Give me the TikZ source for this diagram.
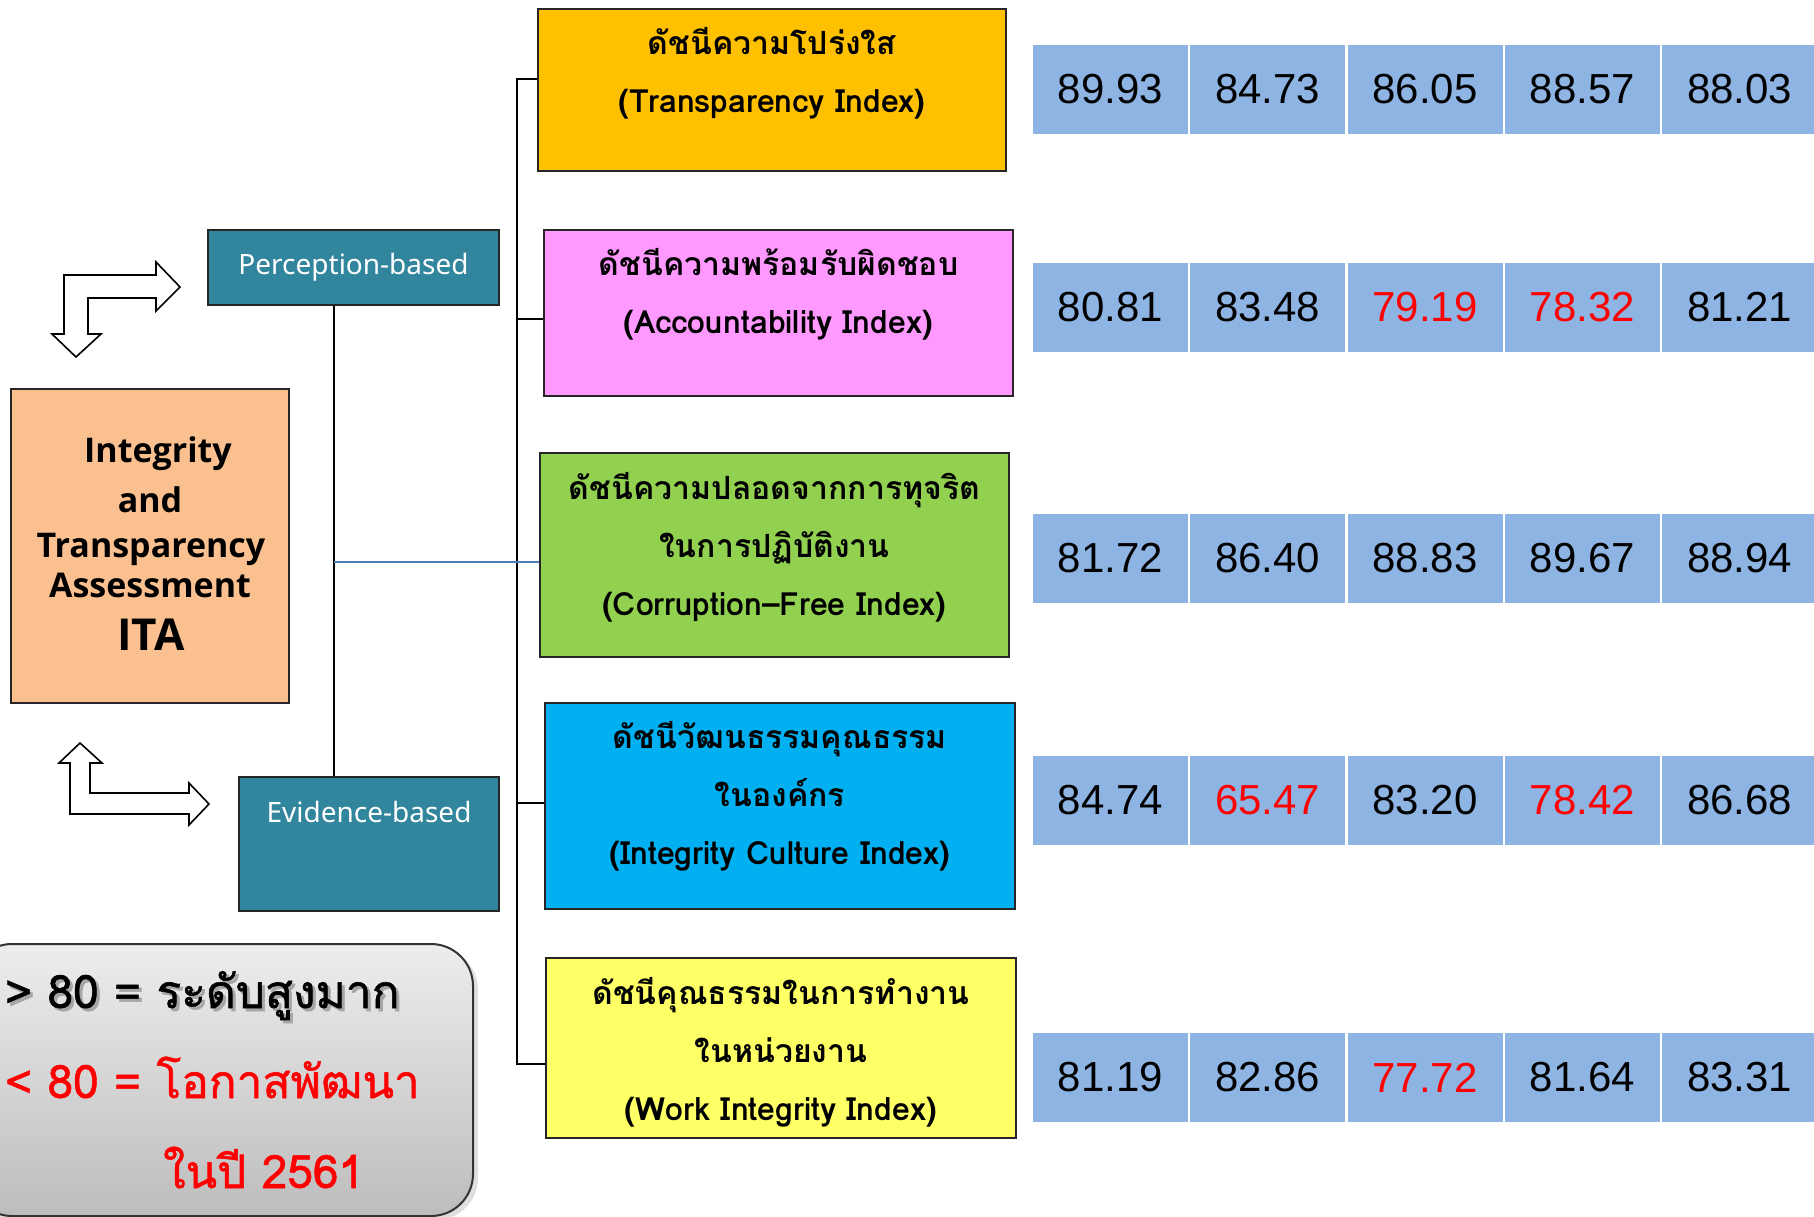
\documentclass[tikz,border=0pt]{standalone}
\usepackage{fontspec}
\setmainfont{Liberation Sans}
\newfontfamily\thai[Script=Thai]{Loma}
\newfontfamily\thaileg[Script=Thai,FakeBold=1.2]{Loma}
\newfontfamily\noto{Noto Sans}
\newfontfamily\opens{Open Sans}
\newfontfamily\numf{Liberation Sans}
\usetikzlibrary{shadows}
\definecolor{orangeb}{HTML}{FFC000}
\definecolor{pinkb}{HTML}{FF99FF}
\definecolor{greenb}{HTML}{92D050}
\definecolor{blueb}{HTML}{00B0F0}
\definecolor{yellowb}{HTML}{FFFF66}
\definecolor{tealb}{HTML}{31859C}
\definecolor{peach}{HTML}{FAC090}
\definecolor{cellb}{HTML}{8EB4E3}
\definecolor{linkblue}{HTML}{4A7EBB}
\definecolor{redt}{HTML}{FF0000}
\tikzset{
  ibox/.style={draw=black!85, line width=2pt, rectangle, inner sep=0pt},
  itext/.style={align=center, inner sep=0pt, font=\thai\bfseries\fontsize{32}{58}\selectfont},
  tbox/.style={draw=black!85, line width=2pt, fill=tealb, rectangle, inner sep=0pt},
  ttext/.style={text=white, inner sep=0pt, font=\noto\fontsize{28}{34}\selectfont},
  cell/.style={fill=cellb, rectangle, minimum width=155, minimum height=89, inner sep=0pt, font=\numf\fontsize{42}{50}\selectfont},
  itaf/.style={inner sep=0pt, anchor=base, font=\opens\bfseries\fontsize{34}{40}\selectfont},
  bent/.style={draw=black, line width=1.6pt, fill=white, line join=miter},
  conn/.style={draw=black, line width=1.6pt},
  legt/.style={inner sep=0pt, anchor=base west, font=\thaileg\fontsize{46}{50}\selectfont},
}
\begin{document}
\begin{tikzpicture}[x=1pt,y=-1pt]
\useasboundingbox (0,0) rectangle (1814,1217);
\clip (0,0) rectangle (1814,1217);
\fill[white] (0,0) rectangle (1814,1217);

% ITA box
\node[draw=black!85, line width=2pt, fill=peach, rectangle, minimum width=278, minimum height=314, inner sep=0pt] (ita) at (150,546) {};
\node[itaf] (ita1) at (158,462) {Integrity};
\node[itaf] (ita2) at (150,512) {and};
\node[itaf] (ita3) at (151,557) {Transparency};
\node[itaf] (ita4) at (150,597) {Assessment};
\node[itaf, font=\opens\bfseries\fontsize{44}{50}\selectfont] (ita5) at (151,650) {ITA};

% Perception / Evidence
\node[tbox, minimum width=291, minimum height=75] (perc) at (353.5,267) {};
\node[ttext] (perct) at (353.5,267) {Perception-based};
\node[tbox, minimum width=260, minimum height=134] (evid) at (369,844) {};
\node[ttext] (evidt) at (369,812) {Evidence-based};

% bent arrows
\draw[bent] (64,275) -- (156,275) -- (156,262) -- (180,287) -- (156,311) -- (156,298)
  -- (88,298) -- (88,334) -- (101,334) -- (76,357) -- (52,334) -- (64,334) -- cycle;
\draw[bent] (70,814) -- (70,763) -- (59,763) -- (80,743) -- (102,763) -- (90,763)
  -- (90,793) -- (189,793) -- (189,783) -- (209,804) -- (189,825) -- (189,814) -- cycle;

% index boxes
\node[ibox, fill=orangeb, minimum width=468, minimum height=162] (b1) at (772,90) {};
\node[ibox, fill=pinkb, minimum width=469, minimum height=166] (b2) at (778.5,313) {};
\node[ibox, fill=greenb, minimum width=469, minimum height=204] (b3) at (774.5,555) {};
\node[ibox, fill=blueb, minimum width=470, minimum height=206] (b4) at (780,806) {};
\node[ibox, fill=yellowb, minimum width=470, minimum height=180] (b5) at (781,1048) {};

\node[itext] (t1) at (772,73.5) {ดัชนีความโปร่งใส\\(Transparency Index)};
\node[itext] (t2) at (778.5,294.5) {ดัชนีความพร้อมรับผิดชอบ\\(Accountability Index)};
\node[itext] (t3) at (774.5,547) {ดัชนีความปลอดจากการทุจริต\\ในการปฏิบัติงาน\\(Corruption–Free Index)};
\node[itext] (t4) at (780,796) {ดัชนีวัฒนธรรมคุณธรรม\\ในองค์กร\\(Integrity Culture Index)};
\node[itext] (t5) at (781,1052) {ดัชนีคุณธรรมในการทำงาน\\ในหน่วยงาน\\(Work Integrity Index)};

% connectors
\coordinate (sp) at (334,562);
\coordinate (k1) at (517,79);
\coordinate (k2) at (517,319);
\coordinate (k4) at (517,803);
\coordinate (k5) at (517,1064);
\draw[conn] (sp |- perc.south) -- (sp |- evid.north);
\draw[conn] (k1 -| b1.west) -- (k1) -- (k5) -- (k5 -| b5.west);
\draw[conn] (k2) -- (k2 -| b2.west);
\draw[conn] (k4) -- (k4 -| b4.west);
\draw[draw=linkblue, line width=1.6pt] (sp) -- (sp -| b3.west);

% number cells
\foreach \v/\cl [count=\i from 0] in {89.93/black,84.73/black,86.05/black,88.57/black,88.03/black}
  \node[cell, text=\cl] (ca\i) at (1110.5+157.3*\i,89.5) {\v};
\foreach \v/\cl [count=\i from 0] in {80.81/black,83.48/black,79.19/redt,78.32/redt,81.21/black}
  \node[cell, text=\cl] (cb\i) at (1110.5+157.3*\i,307) {\v};
\foreach \v/\cl [count=\i from 0] in {81.72/black,86.40/black,88.83/black,89.67/black,88.94/black}
  \node[cell, text=\cl] (cc\i) at (1110.5+157.3*\i,558.5) {\v};
\foreach \v/\cl [count=\i from 0] in {84.74/black,65.47/redt,83.20/black,78.42/redt,86.68/black}
  \node[cell, text=\cl] (cd\i) at (1110.5+157.3*\i,800) {\v};
\foreach \v/\cl [count=\i from 0] in {81.19/black,82.86/black,77.72/redt,81.64/black,83.31/black}
  \node[cell, text=\cl] (ce\i) at (1110.5+157.3*\i,1077.5) {\v};

% legend
\node[draw=black!80, line width=2pt, rounded corners=42pt, top color=black!7, bottom color=black!26,
  minimum width=503, minimum height=272, inner sep=0pt,
  drop shadow={opacity=0.25, shadow xshift=5pt, shadow yshift=-4pt}] (leg) at (221.5,1080) {};
\node[legt, text=black!35] (l1s) at (8,1011) {> 80 = ระดับสูงมาก};
\node[legt] (l1) at (5,1008) {> 80 = ระดับสูงมาก};
\node[legt, text=redt] (l2) at (5,1098) {< 80 = โอกาสพัฒนา};
\node[legt, text=redt] (l3) at (163,1188) {ในปี 2561};
\end{tikzpicture}
\end{document}
